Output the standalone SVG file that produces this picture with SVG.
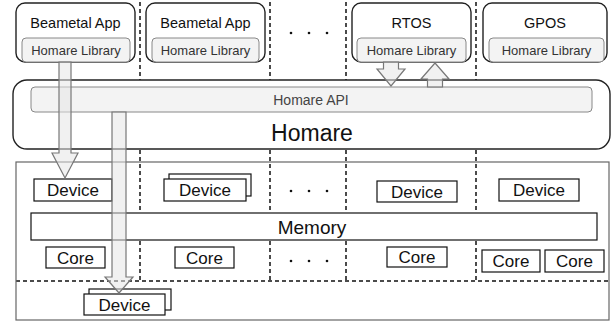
<svg xmlns="http://www.w3.org/2000/svg" width="613" height="322" viewBox="0 0 613 322">
  <style>
    text { font-family: "Liberation Sans", Arial, sans-serif; text-anchor: middle; fill: #111; }
    .app { fill: #fff; stroke: #222; stroke-width: 1.4; }
    .lib { fill: #f3f3f3; stroke: #888; stroke-width: 1; }
    .libtxt { font-size: 13px; fill: #333; }
    .apptxt { font-size: 14.5px; }
    .sep { stroke: #111; stroke-width: 1.5; stroke-dasharray: 4 3; fill: none; }
    .hw { fill: none; stroke: #666; stroke-width: 1.2; }
    .box { fill: #fff; stroke: #111; stroke-width: 1.2; }
    .hwtxt { font-size: 17px; }
    .dot { fill: #111; }
    .arrow { fill: #e6e6e6; fill-opacity: 0.55; stroke: #777; stroke-width: 1.2; stroke-linejoin: miter; }
  </style>

  <!-- partition separators -->
  <g id="separators">
    <path class="sep" d="M140 2V80M270 2V80M346 2V80M476 2V80"/>
    <path class="sep" d="M140 150V281M270 150V281M346 150V281M476 150V281"/>
    <path class="sep" d="M16 281H609"/>
  </g>

  <!-- application partitions -->
  <g id="app1">
    <rect class="app" x="16" y="3" width="119" height="59" rx="9"/>
    <text class="apptxt" x="75.5" y="28">Beametal App</text>
    <rect class="lib" x="22" y="38" width="108" height="24" rx="4"/>
    <text class="libtxt" x="76" y="55">Homare Library</text>
  </g>
  <g id="app2">
    <rect class="app" x="146" y="3" width="119" height="59" rx="9"/>
    <text class="apptxt" x="205.5" y="28">Beametal App</text>
    <rect class="lib" x="152" y="38" width="107" height="24" rx="4"/>
    <text class="libtxt" x="205.5" y="55">Homare Library</text>
  </g>
  <g id="rtos">
    <rect class="app" x="352" y="3" width="119" height="59" rx="9"/>
    <text class="apptxt" x="411.5" y="28">RTOS</text>
    <rect class="lib" x="357" y="38" width="109" height="24" rx="4"/>
    <text class="libtxt" x="411.5" y="55">Homare Library</text>
  </g>
  <g id="gpos">
    <rect class="app" x="483" y="3" width="124" height="59" rx="9"/>
    <text class="apptxt" x="545" y="28">GPOS</text>
    <rect class="lib" x="489" y="38" width="115" height="24" rx="4"/>
    <text class="libtxt" x="546.5" y="55">Homare Library</text>
  </g>
  <g id="dots-top">
    <circle class="dot" cx="291" cy="33" r="1.3"/>
    <circle class="dot" cx="309" cy="33" r="1.3"/>
    <circle class="dot" cx="327" cy="33" r="1.3"/>
  </g>

  <!-- hypervisor layer -->
  <g id="homare">
    <rect class="app" x="13" y="80" width="597" height="69" rx="14"/>
    <rect class="lib" x="31" y="87" width="561" height="25" rx="4"/>
    <text x="311" y="104.5" style="font-size:14px;fill:#444">Homare API</text>
    <text x="312" y="141" style="font-size:23px">Homare</text>
  </g>

  <!-- hardware -->
  <g id="hardware">
    <rect class="hw" x="16" y="162" width="593" height="158"/>
  </g>
  <g id="device1">
    <rect class="box" x="34" y="179" width="78" height="22"/>
    <text class="hwtxt" x="73" y="196">Device</text>
  </g>
  <g id="device2">
    <rect class="box" x="169" y="174" width="82" height="22"/>
    <rect class="box" x="164" y="179" width="82" height="22"/>
    <text class="hwtxt" x="205" y="196">Device</text>
  </g>
  <g id="device4">
    <rect class="box" x="377" y="181" width="80" height="21"/>
    <text class="hwtxt" x="417" y="197.5">Device</text>
  </g>
  <g id="device5">
    <rect class="box" x="499" y="179" width="80" height="22"/>
    <text class="hwtxt" x="539" y="196">Device</text>
  </g>
  <g id="dots-devices">
    <circle class="dot" cx="291" cy="191" r="1.3"/>
    <circle class="dot" cx="309" cy="191" r="1.3"/>
    <circle class="dot" cx="327" cy="191" r="1.3"/>
  </g>
  <g id="memory">
    <rect class="box" x="31" y="213" width="566" height="27"/>
    <text x="312" y="234" style="font-size:19px">Memory</text>
  </g>
  <g id="core1">
    <rect class="box" x="46" y="247" width="59" height="21"/>
    <text class="hwtxt" x="75.5" y="263.5">Core</text>
  </g>
  <g id="core2">
    <rect class="box" x="175" y="247" width="59" height="21"/>
    <text class="hwtxt" x="204.5" y="263.5">Core</text>
  </g>
  <g id="dots-cores">
    <circle class="dot" cx="291" cy="261" r="1.3"/>
    <circle class="dot" cx="309" cy="261" r="1.3"/>
    <circle class="dot" cx="327" cy="261" r="1.3"/>
  </g>
  <g id="core4">
    <rect class="box" x="387" y="247" width="60" height="20"/>
    <text class="hwtxt" x="417" y="263">Core</text>
  </g>
  <g id="core5">
    <rect class="box" x="482" y="250" width="58" height="22"/>
    <text class="hwtxt" x="511" y="267">Core</text>
  </g>
  <g id="core6">
    <rect class="box" x="545" y="250" width="59" height="22"/>
    <text class="hwtxt" x="574.5" y="267">Core</text>
  </g>
  <g id="device-shared">
    <rect class="box" x="89" y="289" width="82" height="21"/>
    <rect class="box" x="84" y="294" width="81" height="21"/>
    <text class="hwtxt" x="124.5" y="311">Device</text>
  </g>

  <!-- connectors -->
  <g id="connectors">
    <path class="arrow" d="M59 62H71V153H78L65 178L52 153H59Z"/>
    <path class="arrow" d="M112 112H126V277H133L119 293L105 277H112Z"/>
    <path class="arrow" d="M383.5 62H398.5V69H405L391 86L377 69H383.5Z"/>
    <path class="arrow" d="M427.5 87V79H421L435 63L449 79H442.5V87Z"/>
  </g>
</svg>
